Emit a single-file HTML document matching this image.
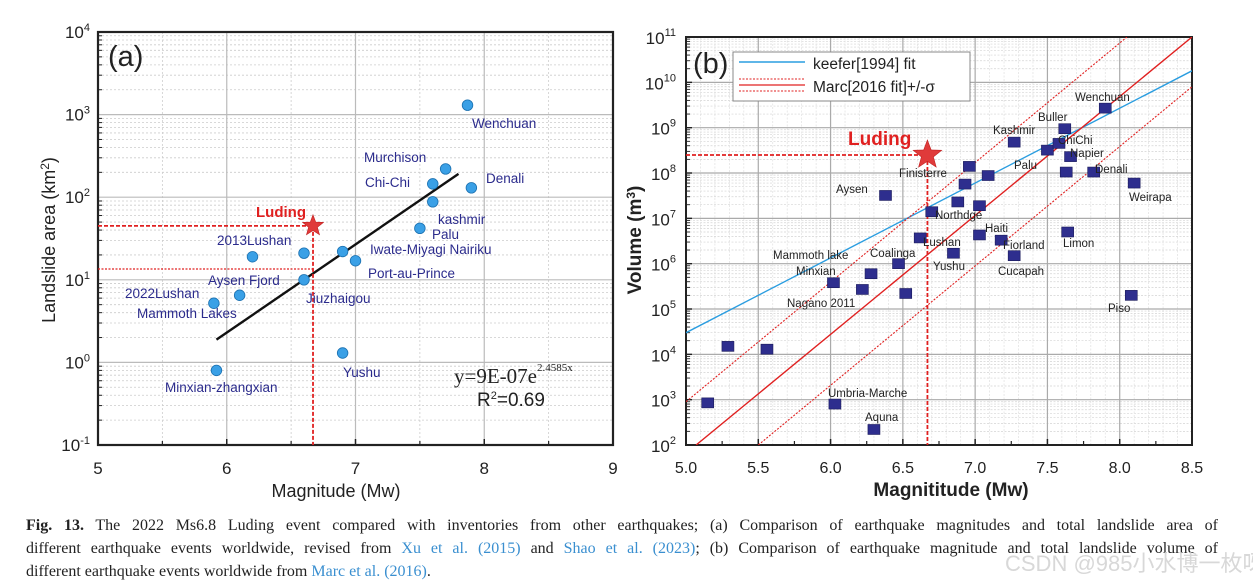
<!DOCTYPE html>
<html><head><meta charset="utf-8">
<style>
body{margin:0;background:#fff;width:1253px;height:587px;overflow:hidden;position:relative}
svg{position:absolute;left:0;top:0}
.cl{position:absolute;left:26px;width:1192px;font-family:"Liberation Serif",serif;font-size:16px;line-height:22px;color:#222;white-space:nowrap}
.j{text-align:justify;text-align-last:justify;white-space:normal}
.cl a{color:#3a8fd0;text-decoration:none}
#wm{position:absolute;left:1005px;top:546px;font-family:"Liberation Sans","Noto Sans CJK SC",sans-serif;font-size:22px;color:#d8d8d8;white-space:nowrap}
</style></head><body>
<svg id="chart" width="1253" height="587"></svg>
<div>
<div class="cl j" style="top:515px"><b>Fig. 13.</b> The 2022 Ms6.8 Luding event compared with inventories from other earthquakes; (a) Comparison of earthquake magnitudes and total landslide area of</div>
<div class="cl j" style="top:538px">different earthquake events worldwide, revised from <a>Xu et al. (2015)</a> and <a>Shao et al. (2023)</a>; (b) Comparison of earthquake magnitude and total landslide volume of</div>
<div class="cl" style="top:561px">different earthquake events worldwide from <a>Marc et al. (2016)</a>.</div>
</div>
<div id="wm">CSDN @985小水博一枚呀</div>
<script>
// Panel (a) data
const aNames=["Wenchuan","Murchison","Chi-Chi","Denali","kashmir","Palu","Iwate-Miyagi Nairiku","Port-au-Prince","2013Lushan","Aysen Fjord","Jiuzhaigou","2022Lushan","Mammoth Lakes","Minxian-zhangxian","Yushu"];
const aMag=[7.87,7.7,7.6,7.9,7.6,7.5,6.9,7.0,6.6,6.2,6.6,6.1,5.9,5.92,6.9];
const aArea=[1300,220,145,130,88,42,22,17,21,19,10,6.5,5.2,0.8,1.3];
const aLabelPos=[[472,128],[364,162],[365,187],[486,183],[438,224],[432,239],[370,254],[368,278],[217,245],[208,285],[306,303],[125,298],[137,318],[165,392],[343,377]];
const aLuding=[6.67,45];
const aFitRange=[5.92,7.8];
const aXTicks=[5,6,7,8,9];
const aYTicks=[-1,0,1,2,3,4];
// Panel (b) data
const bMag=[5.15,5.29,5.56,6.02,6.03,6.22,6.28,6.30,6.38,6.47,6.52,6.62,6.70,6.85,6.88,6.93,6.96,7.03,7.03,7.09,7.18,7.27,7.27,7.50,7.58,7.62,7.63,7.64,7.66,7.82,7.90,8.10,8.08];
const bVol=[850,15000,13000,3.8e5,800,2.7e5,6e5,220,3.2e7,1e6,2.2e5,3.7e6,1.4e7,1.7e6,2.3e7,5.7e7,1.4e8,1.9e7,4.3e6,8.8e7,3.3e6,1.5e6,4.8e8,3.2e8,4.5e8,9.5e8,1.05e8,5e6,2.3e8,1.05e8,2.7e9,6e7,2e5];
const bLabels=[["Wenchuan",1075,101],["Buller",1038,121],["Kashmir",993,134],["ChiChi",1058,144],["Napier",1070,157],["Palu",1014,169],["Denali",1095,173],["Finisterre",899,177],["Weirapa",1129,201],["Aysen",836,193],["Northdge",935,219],["Haiti",985,232],["Lushan",923,246],["Fiorland",1003,249],["Limon",1063,247],["Mammoth lake",773,259],["Coalinga",870,257],["Minxian",796,275],["Yushu",933,270],["Cucapah",998,275],["Nagano 2011",787,307],["Piso",1108,312],["Umbria-Marche",828,397],["Aquna",865,421]];
const bLuding=[6.67,2.5e8];
const keefer=[[5.0,3e4],[8.5,1.8e10]];
const marc=[[5.07,100],[8.5,1e11]];
const marcUp=[[5.0,900],[8.05,1e11]];
const marcLo=[[5.5,100],[8.5,8e9]];
const bXTicks=[5.0,5.5,6.0,6.5,7.0,7.5,8.0,8.5];
const bYTicks=[2,3,4,5,6,7,8,9,10,11];

const svg=document.getElementById('chart');const NS='http://www.w3.org/2000/svg';
function el(t,a,p){const e=document.createElementNS(NS,t);for(const k in a)e.setAttribute(k,a[k]);(p||svg).appendChild(e);return e;}
function txt(s,x,y,a,p){const e=el('text',Object.assign({x:x,y:y},a),p);e.textContent=s;return e;}
const xa=m=>98+(m-5)*128.75, ya=v=>445-(Math.log10(v)+1)*82.6;
const xb=m=>686+(m-5)*144.57, yb=v=>445-(Math.log10(v)-2)*45.33;
const SANS='"Liberation Sans",sans-serif';

function star(cx,cy,r){let p=[];for(let i=0;i<10;i++){const rr=i%2?r*0.42:r;const a=-Math.PI/2+i*Math.PI/5;p.push((cx+rr*Math.cos(a)).toFixed(1)+','+(cy+rr*Math.sin(a)).toFixed(1));}return p.join(' ');}

// ---------- Panel A ----------
const gA=el('g',{});
for(let d=-1;d<4;d++)for(let k=2;k<10;k++){const y=ya(k*Math.pow(10,d));el('line',{x1:98,x2:613,y1:y,y2:y,stroke:'#ccc','stroke-width':0.8,'stroke-dasharray':'2,2'},gA);}
for(let m=5.5;m<9;m+=1){el('line',{x1:xa(m),x2:xa(m),y1:32,y2:445,stroke:'#ccc','stroke-width':0.8,'stroke-dasharray':'2,2'},gA);}
aYTicks.forEach(t=>{const y=ya(Math.pow(10,t));el('line',{x1:98,x2:613,y1:y,y2:y,stroke:'#bbb','stroke-width':1.2},gA);
 const e=txt('10',90,y+6,{'font-family':SANS,'font-size':17,'text-anchor':'end',fill:'#222'},gA);
 const s=el('tspan',{dy:-7,'font-size':11},e);s.textContent=String(t);});
aXTicks.forEach(t=>{const x=xa(t);el('line',{x1:x,x2:x,y1:32,y2:445,stroke:'#bbb','stroke-width':1.2},gA);
 txt(String(t),x,474,{'font-family':SANS,'font-size':17,'text-anchor':'middle',fill:'#222'},gA);
 el('line',{x1:x,x2:x,y1:445,y2:439,stroke:'#222','stroke-width':1.5},gA);});
for(let m=5.5;m<9;m+=1)el('line',{x1:xa(m),x2:xa(m),y1:445,y2:441,stroke:'#222','stroke-width':1.2},gA);
for(let d=-1;d<4;d++)for(let k=2;k<10;k++){const y=ya(k*Math.pow(10,d));el('line',{x1:98,x2:102,y1:y,y2:y,stroke:'#222','stroke-width':1},gA);}
el('rect',{x:98,y:32,width:515,height:413,fill:'none',stroke:'#222','stroke-width':2.2},gA);
const fa=m=>9e-7*Math.exp(2.4585*m);
const fit=el('line',{x1:xa(aFitRange[0]),y1:ya(fa(aFitRange[0])),x2:xa(aFitRange[1]),y2:ya(fa(aFitRange[1])),stroke:'#111','stroke-width':2.4},gA);

el('line',{x1:98,x2:xa(aLuding[0]),y1:ya(aLuding[1]),y2:ya(aLuding[1]),stroke:'#e02020','stroke-width':1.8,'stroke-dasharray':'4,2'},gA);
el('line',{x1:98,x2:xa(aLuding[0]),y1:ya(13.5),y2:ya(13.5),stroke:'#e02020','stroke-width':1.2,'stroke-dasharray':'2,1.5'},gA);
el('line',{x1:xa(aLuding[0]),x2:xa(aLuding[0]),y1:ya(aLuding[1]),y2:445,stroke:'#e02020','stroke-width':1.8,'stroke-dasharray':'4,2'},gA);
aMag.forEach((m,i)=>{const c=el('circle',{cx:xa(m),cy:ya(aArea[i]),r:5.3,fill:'#3aa0e6',stroke:'#1a70b0','stroke-width':0.8},gA);
 
 txt(aNames[i],aLabelPos[i][0],aLabelPos[i][1],{'font-family':SANS,'font-size':13.5,fill:'#2b2b8c'},gA);});
const sa=el('polygon',{points:star(xa(aLuding[0]),ya(aLuding[1]),11),fill:'#e03a3a',stroke:'#c02020','stroke-width':0.6},gA);

txt('Luding',256,217,{'font-family':SANS,'font-size':15,'font-weight':'bold',fill:'#e02020'},gA);
txt('(a)',108,66,{'font-family':SANS,'font-size':29,fill:'#222'},gA);
const eq=txt('y=9E-07e',454,383,{'font-family':'"Liberation Serif",serif','font-size':21,fill:'#222'},gA);
const eqs=el('tspan',{dy:-12,'font-size':11},eq);eqs.textContent='2.4585x';
const r2=txt('R',477,406,{'font-family':SANS,'font-size':19,fill:'#222'},gA);
const r2s=el('tspan',{dy:-7,'font-size':11},r2);r2s.textContent='2';
const r2t=el('tspan',{dy:7},r2);r2t.textContent='=0.69';
txt('Magnitude (Mw)',336,497,{'font-family':SANS,'font-size':18,'text-anchor':'middle',fill:'#222'},gA);
const yla=txt('',55,240,{'font-family':SANS,'font-size':18,'text-anchor':'middle',fill:'#222',transform:'rotate(-90 55 240)'},gA);
const yl1=el('tspan',{},yla);yl1.textContent='Landslide area (km';const yl2=el('tspan',{dy:-6,'font-size':12},yla);yl2.textContent='2';const yl3=el('tspan',{dy:6},yla);yl3.textContent=')';

// ---------- Panel B ----------
const gB=el('g',{});
for(let d=2;d<11;d++)for(let k=2;k<10;k++){const y=yb(k*Math.pow(10,d));el('line',{x1:686,x2:1192,y1:y,y2:y,stroke:'#d4d4d4','stroke-width':0.7,'stroke-dasharray':'2,1.5'},gB);}
for(let m=5.1;m<8.5;m+=0.1){if(Math.abs(m*2-Math.round(m*2))<0.01)continue;el('line',{x1:xb(m),x2:xb(m),y1:37,y2:445,stroke:'#e0e0e0','stroke-width':0.7,'stroke-dasharray':'2,1.5'},gB);}
bYTicks.forEach(t=>{const y=yb(Math.pow(10,t));el('line',{x1:686,x2:1192,y1:y,y2:y,stroke:'#aaa','stroke-width':1.2},gB);
 const e=txt('10',676,y+7,{'font-family':SANS,'font-size':17,'text-anchor':'end',fill:'#222'},gB);
 const s=el('tspan',{dy:-8,'font-size':11},e);s.textContent=String(t);
 el('line',{x1:686,x2:692,y1:y,y2:y,stroke:'#222','stroke-width':1.4},gB);});
for(let d=2;d<11;d++)for(let k=2;k<10;k++){const y=yb(k*Math.pow(10,d));el('line',{x1:686,x2:690,y1:y,y2:y,stroke:'#222','stroke-width':0.9},gB);}
bXTicks.forEach(t=>{const x=xb(t);el('line',{x1:x,x2:x,y1:37,y2:445,stroke:'#aaa','stroke-width':1.2},gB);
 txt(t.toFixed(1),x,473,{'font-family':SANS,'font-size':16,'text-anchor':'middle',fill:'#222'},gB);
 el('line',{x1:x,x2:x,y1:445,y2:439,stroke:'#222','stroke-width':1.5},gB);});
for(let m=5.25;m<8.5;m+=0.5)el('line',{x1:xb(m),x2:xb(m),y1:445,y2:441,stroke:'#222','stroke-width':1.2},gB);
el('rect',{x:686,y:37,width:506,height:408,fill:'none',stroke:'#222','stroke-width':2},gB);
const defs=el('defs',{});const cp=el('clipPath',{id:'cb'},defs);el('rect',{x:686,y:37,width:506,height:408},cp);
function ln(p,st,w,da,name){const l=el('line',{x1:xb(p[0][0]),y1:yb(p[0][1]),x2:xb(p[1][0]),y2:yb(p[1][1]),stroke:st,'stroke-width':w,'clip-path':'url(#cb)'},gB);if(da)l.setAttribute('stroke-dasharray',da);
 }
ln(keefer,'#2a9de0',1.4,null,'keefer-fit-line');
ln(marc,'#e02020',1.4,null,'marc-fit-line');
ln(marcUp,'#e02020',1.1,'2,1.5','marc-plus-sigma-line');
ln(marcLo,'#e02020',1.1,'2,1.5','marc-minus-sigma-line');
el('line',{x1:686,x2:xb(bLuding[0]),y1:yb(bLuding[1]),y2:yb(bLuding[1]),stroke:'#e02020','stroke-width':1.8,'stroke-dasharray':'4,2'},gB);
el('line',{x1:xb(bLuding[0]),x2:xb(bLuding[0]),y1:yb(bLuding[1]),y2:445,stroke:'#e02020','stroke-width':1.8,'stroke-dasharray':'4,2'},gB);
bMag.forEach((m,i)=>{const r=el('rect',{x:xb(m)-6,y:yb(bVol[i])-5,width:12,height:10,fill:'#2e2e8e',stroke:'#1a1a5a','stroke-width':0.6},gB);
 });
bLabels.forEach(l=>txt(l[0],l[1],l[2],{'font-family':SANS,'font-size':11.5,fill:'#222'},gB));
const sb=el('polygon',{points:star(xb(bLuding[0]),yb(bLuding[1]),15),fill:'#e03a3a',stroke:'#c02020','stroke-width':0.6},gB);

txt('Luding',848,145,{'font-family':SANS,'font-size':19,'font-weight':'bold',fill:'#e02020'},gB);
txt('(b)',693,73,{'font-family':SANS,'font-size':29,fill:'#222'},gB);
const lg=el('g',{},gB);
el('rect',{x:733,y:52,width:237,height:49,fill:'#fff',stroke:'#888','stroke-width':1},lg);
el('line',{x1:739,x2:805,y1:62,y2:62,stroke:'#2a9de0','stroke-width':1.5},lg);
txt('keefer[1994] fit',813,69,{'font-family':SANS,'font-size':15.5,fill:'#222'},lg);
el('line',{x1:739,x2:805,y1:79,y2:79,stroke:'#e02020','stroke-width':1,'stroke-dasharray':'2,1.5'},lg);
el('line',{x1:739,x2:805,y1:85,y2:85,stroke:'#e02020','stroke-width':1.3},lg);
el('line',{x1:739,x2:805,y1:91,y2:91,stroke:'#e02020','stroke-width':1,'stroke-dasharray':'2,1.5'},lg);
txt('Marc[2016 fit]+/-σ',813,92,{'font-family':SANS,'font-size':15.5,fill:'#222'},lg);
txt('Magnititude (Mw)',951,496,{'font-family':SANS,'font-size':19,'font-weight':'bold','text-anchor':'middle',fill:'#222'},gB);
const ylb=txt('',641,240,{'font-family':SANS,'font-size':19,'font-weight':'bold','text-anchor':'middle',fill:'#222',transform:'rotate(-90 641 240)'},gB);
const b1=el('tspan',{},ylb);b1.textContent='Volume (m';const b2=el('tspan',{dy:-6,'font-size':12},ylb);b2.textContent='3';const b3=el('tspan',{dy:6},ylb);b3.textContent=')';
</script>
</body></html>
